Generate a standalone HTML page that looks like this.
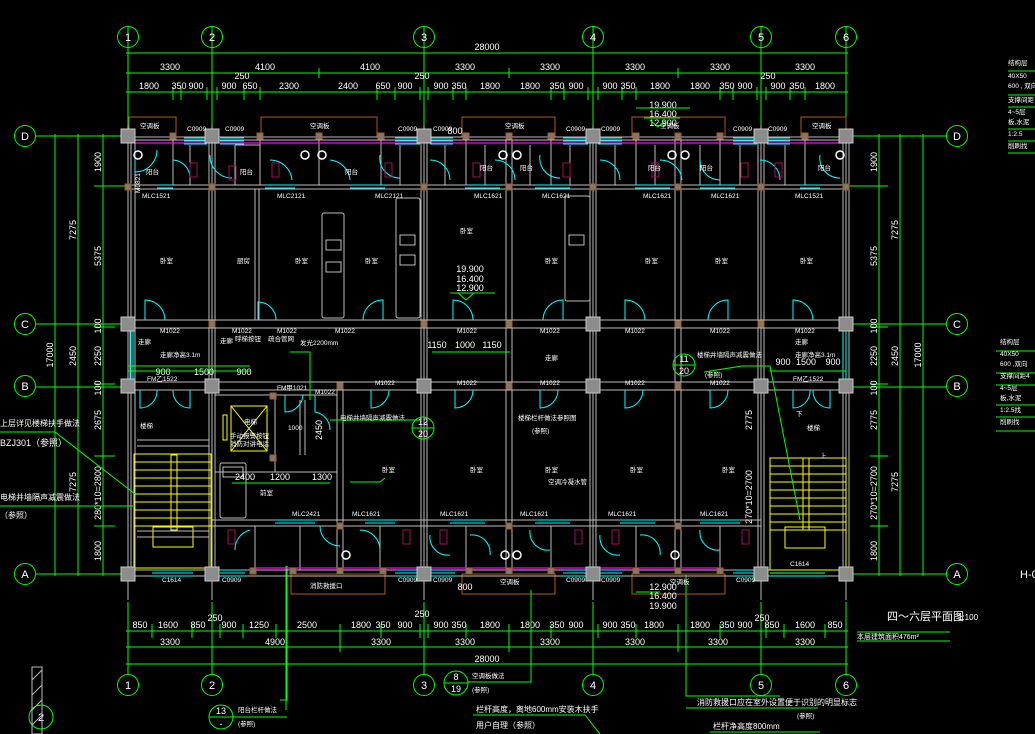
<!DOCTYPE html>
<html><head><meta charset="utf-8"><style>
html,body{margin:0;padding:0;background:#000;}
svg{display:block;}
text{font-family:"Liberation Sans","Noto Sans CJK SC",sans-serif;fill:#fff;}
.d{font-size:9px;text-anchor:middle;}
.s{font-size:6.5px;}
.g{stroke:#00ff00;fill:none;stroke-width:1;}
.w{stroke:#bdbdbd;fill:none;stroke-width:1;}
.c{stroke:#00ffff;fill:none;stroke-width:1;}
.y{stroke:#ffff00;fill:none;stroke-width:1;}
.b{stroke:#b05a14;fill:none;stroke-width:1;}
.m{stroke:#ff00ff;fill:none;stroke-width:1.2;}
.col{fill:#8c8c8c;stroke:#c8c8c8;stroke-width:1;}
.sc{fill:#7a7a7a;stroke:#b05a14;stroke-width:1;}
</style></head><body>
<svg width="1035" height="734" viewBox="0 0 1035 734" xmlns="http://www.w3.org/2000/svg">
<rect width="1035" height="734" fill="#000"/>

<g class="w" stroke-width="0.8">
<line x1="128" y1="120" x2="128" y2="600"/><line x1="212" y1="120" x2="212" y2="600"/>
<line x1="424" y1="120" x2="424" y2="600"/><line x1="593" y1="120" x2="593" y2="600"/>
<line x1="761" y1="120" x2="761" y2="600"/><line x1="846" y1="120" x2="846" y2="600"/>
</g>

<g class="g">
<line x1="128" y1="26" x2="128" y2="125"/><line x1="212" y1="26" x2="212" y2="125"/>
<line x1="424" y1="26" x2="424" y2="125"/><line x1="593" y1="26" x2="593" y2="125"/>
<line x1="761" y1="26" x2="761" y2="125"/><line x1="846" y1="26" x2="846" y2="125"/>
<line x1="126" y1="53" x2="848" y2="53"/><line x1="126" y1="73" x2="848" y2="73"/><line x1="126" y1="92" x2="848" y2="92"/>
<circle cx="128" cy="37" r="10.5"/><circle cx="212" cy="37" r="10.5"/><circle cx="424" cy="37" r="10.5"/>
<circle cx="593" cy="37" r="10.5"/><circle cx="761" cy="37" r="10.5"/><circle cx="846" cy="37" r="10.5"/>
<path d="M319 68V78M509 68V78M678 68V78M173 87V100M181 87V100M207 87V100M217 87V100M244 87V100M260 87V100M377 87V100M395 87V100M420 87V100M428 87V100M453 87V100M466 87V100M551 87V100M564 87V100M588 87V100M598 87V100M622 87V100M636 87V100M720 87V100M733 87V100M757 87V100M766 87V100M790 87V100M805 87V100"/>
</g>
<g fill="#fff" font-size="11" text-anchor="middle">
<text x="128" y="41">1</text><text x="212" y="41">2</text><text x="424" y="41">3</text>
<text x="593" y="41">4</text><text x="761" y="41">5</text><text x="846" y="41">6</text>
</g>
<text class="d" x="487" y="50">28000</text>
<g class="d">
<text x="170" y="70">3300</text><text x="265" y="70">4100</text><text x="370" y="70">4100</text><text x="465" y="70">3300</text>
<text x="550" y="70">3300</text><text x="635" y="70">3300</text><text x="720" y="70">3300</text><text x="805" y="70">3300</text>
<text x="242" y="79">250</text><text x="422" y="79">250</text><text x="768" y="79">250</text>
<text x="149" y="89">1800</text><text x="179" y="89">350</text><text x="196" y="89">900</text><text x="229" y="89">900</text>
<text x="250" y="89">650</text><text x="289" y="89">2300</text><text x="348" y="89">2400</text><text x="383" y="89">650</text>
<text x="405" y="89">900</text><text x="441" y="89">900</text><text x="459" y="89">350</text><text x="490" y="89">1800</text>
<text x="530" y="89">1800</text><text x="557" y="89">350</text><text x="576" y="89">900</text><text x="610" y="89">900</text>
<text x="628" y="89">350</text><text x="660" y="89">1800</text><text x="700" y="89">1800</text><text x="727" y="89">350</text>
<text x="745" y="89">900</text><text x="778" y="89">900</text><text x="797" y="89">350</text><text x="825" y="89">1800</text>
</g>

<g class="g">
<line x1="35" y1="136" x2="128" y2="136"/><line x1="35" y1="324" x2="128" y2="324"/>
<line x1="35" y1="387" x2="128" y2="387"/><line x1="35" y1="574" x2="128" y2="574"/>
<line x1="55" y1="134" x2="55" y2="576"/><line x1="78" y1="134" x2="78" y2="576"/><line x1="103" y1="134" x2="103" y2="576"/>
<line x1="94" y1="186" x2="128" y2="186"/><line x1="94" y1="327" x2="115" y2="327"/><line x1="94" y1="384" x2="115" y2="384"/>
<line x1="94" y1="456" x2="115" y2="456"/><line x1="94" y1="526" x2="115" y2="526"/>
<circle cx="25" cy="136" r="10.5"/><circle cx="25" cy="324" r="10.5"/><circle cx="25" cy="386" r="10.5"/><circle cx="25" cy="574" r="10.5"/>
</g>
<g fill="#fff" font-size="11" text-anchor="middle">
<text x="25" y="140">D</text><text x="25" y="328">C</text><text x="25" y="390">B</text><text x="25" y="578">A</text>
</g>
<g class="d">
<text transform="translate(101,162) rotate(-90)">1900</text><text transform="translate(101,256) rotate(-90)">5375</text>
<text transform="translate(101,326) rotate(-90)">100</text><text transform="translate(101,356) rotate(-90)">2250</text>
<text transform="translate(101,388) rotate(-90)">100</text><text transform="translate(101,420) rotate(-90)">2675</text>
<text transform="translate(101,493) rotate(-90)">280*10=2800</text><text transform="translate(101,551) rotate(-90)">1800</text>
<text transform="translate(76,230) rotate(-90)">7275</text><text transform="translate(76,356) rotate(-90)">2450</text>
<text transform="translate(76,482) rotate(-90)">7275</text><text transform="translate(53,355) rotate(-90)">17000</text>
</g>

<g class="g">
<line x1="846" y1="136" x2="946" y2="136"/><line x1="846" y1="324" x2="946" y2="324"/>
<line x1="846" y1="387" x2="946" y2="387"/><line x1="846" y1="574" x2="946" y2="574"/>
<line x1="879" y1="134" x2="879" y2="576"/><line x1="900" y1="134" x2="900" y2="576"/><line x1="923" y1="134" x2="923" y2="576"/>
<line x1="846" y1="186" x2="888" y2="186"/><line x1="870" y1="327" x2="888" y2="327"/><line x1="870" y1="384" x2="888" y2="384"/>
<line x1="870" y1="456" x2="888" y2="456"/><line x1="870" y1="526" x2="888" y2="526"/>
<circle cx="957" cy="136" r="10.5"/><circle cx="957" cy="324" r="10.5"/><circle cx="957" cy="386" r="10.5"/><circle cx="957" cy="574" r="10.5"/>
</g>
<g fill="#fff" font-size="11" text-anchor="middle">
<text x="957" y="140">D</text><text x="957" y="328">C</text><text x="957" y="390">B</text><text x="957" y="578">A</text>
</g>
<g class="d">
<text transform="translate(877,162) rotate(-90)">1900</text><text transform="translate(877,256) rotate(-90)">5375</text>
<text transform="translate(877,326) rotate(-90)">100</text><text transform="translate(877,356) rotate(-90)">2250</text>
<text transform="translate(877,388) rotate(-90)">100</text><text transform="translate(877,420) rotate(-90)">2775</text>
<text transform="translate(877,493) rotate(-90)">270*10=2700</text><text transform="translate(877,551) rotate(-90)">1800</text>
<text transform="translate(898,230) rotate(-90)">7275</text><text transform="translate(898,356) rotate(-90)">2450</text>
<text transform="translate(898,482) rotate(-90)">7275</text><text transform="translate(921,355) rotate(-90)">17000</text>
</g>

<g class="g">
<line x1="128" y1="602" x2="128" y2="674"/><line x1="212" y1="602" x2="212" y2="674"/>
<line x1="424" y1="602" x2="424" y2="674"/><line x1="593" y1="602" x2="593" y2="674"/>
<line x1="761" y1="602" x2="761" y2="674"/><line x1="846" y1="602" x2="846" y2="674"/>
<line x1="126" y1="631" x2="848" y2="631"/><line x1="126" y1="647" x2="848" y2="647"/><line x1="126" y1="664" x2="848" y2="664"/>
<circle cx="128" cy="685" r="10.5"/><circle cx="212" cy="685" r="10.5"/><circle cx="424" cy="685" r="10.5"/>
<circle cx="593" cy="685" r="10.5"/><circle cx="761" cy="685" r="10.5"/><circle cx="846" cy="685" r="10.5"/>
<path d="M152 624V638M192 624V638M220 624V638M243 624V638M276 624V638M340 624V652M381 624V638M420 624V638M428 624V638M466 624V638M509 624V652M551 624V638M598 624V638M636 624V638M678 624V652M720 624V638M766 624V638M784 624V638M825 624V638"/>
<path d="M287 566V700H280M286 566V710M686 575V696H780"/>
</g>
<g fill="#fff" font-size="11" text-anchor="middle">
<text x="128" y="689">1</text><text x="212" y="689">2</text><text x="424" y="689">3</text>
<text x="593" y="689">4</text><text x="761" y="689">5</text><text x="846" y="689">6</text>
</g>
<g class="d">
<text x="140" y="628">850</text><text x="168" y="628">1600</text><text x="198" y="628">850</text><text x="229" y="628">900</text>
<text x="259" y="628">1250</text><text x="307" y="628">2500</text><text x="361" y="628">1800</text><text x="383" y="628">350</text>
<text x="405" y="628">900</text><text x="441" y="628">900</text><text x="459" y="628">350</text><text x="490" y="628">1800</text>
<text x="530" y="628">1800</text><text x="557" y="628">350</text><text x="576" y="628">900</text><text x="610" y="628">900</text>
<text x="628" y="628">350</text><text x="654" y="628">1800</text><text x="700" y="628">1800</text><text x="727" y="628">350</text>
<text x="745" y="628">900</text><text x="772" y="628">850</text><text x="805" y="628">1600</text><text x="835" y="628">850</text>
<text x="215" y="621">250</text><text x="422" y="617">250</text><text x="762" y="621">250</text>
<text x="170" y="645">3300</text><text x="275" y="645">4900</text><text x="381" y="645">3300</text><text x="465" y="645">3300</text>
<text x="550" y="645">3300</text><text x="635" y="645">3300</text><text x="718" y="645">3300</text><text x="805" y="645">3300</text>
<text x="487" y="662">28000</text>
</g>

<g class="b">
<rect x="129" y="117" width="47" height="20"/><rect x="261" y="117" width="116" height="20"/>
<rect x="462" y="117" width="93" height="20"/><rect x="632" y="117" width="93" height="20"/><rect x="801" y="117" width="45" height="20"/>
<rect x="291" y="574" width="94" height="20"/><rect x="462" y="574" width="93" height="20"/><rect x="632" y="574" width="93" height="20"/>
</g>
<g class="s"><text x="140" y="128">空调板</text><text x="310" y="128">空调板</text><text x="505" y="128">空调板</text><text x="660" y="128">空调板</text><text x="812" y="128">空调板</text>
<text x="310" y="588">消防救援口</text><text x="500" y="584">空调板</text><text x="670" y="584">空调板</text></g>

<g class="w">
<path d="M128 137H846M128 140H846"/>
<path d="M128 185H846M128 189H846"/>
<path d="M128 320H846M128 328H846M128 382H846M128 390H846"/>
<path d="M212 520H761M212 526H761"/>
<path d="M128 570H846M128 576H846"/>
<path d="M131 140V570M135 140V570M209 140V570M215 140V570M421 140V570M427 140V570M590 140V570M596 140V570M758 140V570M764 140V570M843 140V570M849 140V570"/>
<path d="M506 140V574M512 140V574M675 140V574M681 140V574M337 390V574M343 390V574"/>
<path d="M255 189V320M259 189V320M173 140V185M260 140V185M319 140V185M381 140V185M466 140V185M551 140V185M636 140V185M720 140V185M805 140V185"/>
<path d="M235 145V185M235 145H260M190 145V185M400 145V185M445 145V185M485 145V185M530 145V185M570 145V185M615 145V185M655 145V185M700 145V185M740 145V185M785 145V185"/>
<path d="M255 526V570M300 526V570M380 526V570M466 526V570M551 526V570M636 526V570M720 526V570"/>
<path d="M215 395H337M215 472H337M275 395V472M300 400V455M305 400V455"/>
<rect x="322" y="213" width="22" height="105" rx="2"/><rect x="396" y="198" width="24" height="120" rx="2"/>
<rect x="565" y="196" width="25" height="105" rx="2"/><rect x="326" y="240" width="15" height="10"/><rect x="326" y="262" width="15" height="10"/>
<rect x="400" y="235" width="15" height="10"/><rect x="400" y="255" width="15" height="10"/><rect x="569" y="235" width="15" height="10"/>
<rect x="220" y="463" width="26" height="55" rx="2"/><rect x="223" y="467" width="20" height="10"/>
</g>
<line class="m" x1="135" y1="143" x2="843" y2="143"/>
<line class="m" x1="250" y1="568" x2="720" y2="568"/>

<g class="c">
<path d="M184 138H207M184 141H207M184 144H207M220 138H244M220 141H244M220 144H244M395 138H420M395 141H420M395 144H420M430 138H453M430 141H453M430 144H453"/>
<path d="M563 138H588M563 141H588M563 144H588M598 138H622M598 141H622M598 144H622M733 138H757M733 141H757M733 144H757M767 138H790M767 141H790M767 144H790"/>
<path d="M157 185H173M157 188H173M265 185H295M265 188H295M350 185H385M350 188H385M465 185H500M465 188H500M535 185H570M535 188H570M635 185H670M635 188H670M700 185H735M700 188H735M800 185H820M800 188H820"/>
<path d="M152 570H193M152 573H193M152 576H193M220 570H245M220 573H245M220 576H245M395 570H420M395 573H420M395 576H420M430 570H455M430 573H455M430 576H455"/>
<path d="M563 570H588M563 573H588M563 576H588M598 570H622M598 573H622M598 576H622M733 570H757M733 573H757M733 576H757M770 570H825M770 573H825M770 576H825"/>
<path d="M275 520H315M275 523H315M365 520H395M365 523H395M450 520H485M450 523H485M535 520H570M535 523H570M620 520H655M620 523H655M700 520H740M700 523H740"/>
<path d="M130 330V380M133 330V380M843 330V380M846 330V380"/>
<path d="M135 150V172A22 22 0 0 0 157 150M173 160A18 18 0 0 1 190 178M210 155A22 22 0 0 0 232 178M270 160A22 22 0 0 1 292 180M330 160A22 22 0 0 1 350 180M380 155A20 20 0 0 0 400 178M430 160A20 20 0 0 1 450 180M495 160A20 20 0 0 1 515 180M540 155A20 20 0 0 0 560 178M600 160A20 20 0 0 1 620 180M660 160A22 22 0 0 1 682 180M700 160A20 20 0 0 0 720 180M760 160A20 20 0 0 1 780 180M820 155A20 20 0 0 0 840 178"/>
<path d="M145 320V300A20 20 0 0 1 165 320M258 320V302A18 18 0 0 1 276 320M363 320A20 20 0 0 1 383 300V320M453 320V300A20 20 0 0 1 473 320M543 320A20 20 0 0 1 563 300V320M625 320V300A20 20 0 0 1 645 320M708 320A20 20 0 0 1 728 300V320M793 320V300A20 20 0 0 1 813 320"/>
<path d="M140 390V408A17 17 0 0 0 157 390M190 390V408A17 17 0 0 1 173 390M371 390V408A18 18 0 0 0 389 390M455 390V408A18 18 0 0 0 473 390M540 390V408A18 18 0 0 0 558 390M625 390V408A18 18 0 0 0 643 390M710 390V408A18 18 0 0 0 728 390M793 390V408A17 17 0 0 0 810 390M830 390V408A17 17 0 0 1 813 390M285 395V412A18 18 0 0 0 303 395M315 395V412A18 18 0 0 1 330 430"/>
<path d="M250 530A20 20 0 0 0 235 550M320 526A20 20 0 0 0 340 546M360 530A20 20 0 0 1 380 550M430 535A18 18 0 0 0 450 555M470 535A18 18 0 0 1 490 555M530 530A18 18 0 0 0 550 550M600 535A18 18 0 0 0 620 555M640 535A18 18 0 0 1 660 555M700 530A18 18 0 0 0 720 550"/>
</g>

<g class="y">
<rect x="134" y="454" width="77" height="114"/>
<path d="M134 462H211M134 470H211M134 478H211M134 486H211M134 494H211M134 502H211M134 510H211M134 518H211M134 526H211"/>
<rect x="171" y="455" width="6" height="75"/><rect x="153" y="527" width="40" height="20"/>
<rect x="231" y="406" width="36" height="45"/><path d="M231 406L267 451M267 406L231 451"/><rect x="223" y="415" width="4" height="25"/>
<rect x="770" y="458" width="76" height="112"/>
<path d="M770 466H846M770 474H846M770 482H846M770 490H846M770 498H846M770 506H846M770 514H846M770 522H846M770 530H846"/>
<rect x="803" y="458" width="6" height="72"/><rect x="785" y="527" width="40" height="21"/>
</g>
<g class="w" stroke="#888"><path d="M137 440H209M137 446H209M137 531H209M137 537H209"/></g>

<g stroke="#a0105a" fill="none">
<rect x="190" y="163" width="7" height="14"/><rect x="229" y="166" width="7" height="14"/><rect x="272" y="163" width="7" height="14"/>
<rect x="385" y="163" width="7" height="14"/><rect x="473" y="163" width="7" height="14"/><rect x="563" y="163" width="7" height="14"/>
<rect x="652" y="163" width="7" height="14"/><rect x="741" y="163" width="7" height="14"/><rect x="775" y="163" width="7" height="14"/>
<rect x="228" y="530" width="7" height="14"/><rect x="403" y="530" width="7" height="14"/><rect x="440" y="530" width="7" height="14"/>
<rect x="575" y="530" width="7" height="14"/><rect x="612" y="530" width="7" height="14"/><rect x="742" y="530" width="7" height="14"/>
</g>
<g fill="none" stroke="#fff" stroke-width="1.5"><circle cx="138" cy="155" r="4"/><circle cx="305" cy="155" r="4"/><circle cx="322" cy="155" r="4"/><circle cx="503" cy="155" r="4"/><circle cx="517" cy="155" r="4"/>
<circle cx="672" cy="155" r="4"/><circle cx="685" cy="155" r="4"/><circle cx="840" cy="155" r="4"/><circle cx="346" cy="555" r="4"/><circle cx="505" cy="555" r="4"/><circle cx="517" cy="555" r="4"/><circle cx="675" cy="555" r="4"/></g>

<g class="col">
<rect x="121" y="129" width="14" height="14"/><rect x="205" y="129" width="14" height="14"/><rect x="417" y="129" width="14" height="14"/>
<rect x="586" y="129" width="14" height="14"/><rect x="754" y="129" width="14" height="14"/><rect x="839" y="129" width="14" height="14"/>
<rect x="121" y="317" width="14" height="14"/><rect x="839" y="317" width="14" height="14"/><rect x="586" y="317" width="14" height="14"/>
<rect x="121" y="379" width="14" height="14"/><rect x="205" y="379" width="14" height="14"/><rect x="417" y="379" width="14" height="14"/>
<rect x="586" y="379" width="14" height="14"/><rect x="754" y="379" width="14" height="14"/><rect x="839" y="379" width="14" height="14"/>
<rect x="121" y="567" width="14" height="14"/><rect x="205" y="567" width="14" height="14"/><rect x="417" y="567" width="14" height="14"/>
<rect x="586" y="567" width="14" height="14"/><rect x="754" y="567" width="14" height="14"/><rect x="839" y="567" width="14" height="14"/>
</g>
<g class="sc">
<rect x="170" y="133" width="6" height="6"/><rect x="257" y="133" width="6" height="6"/><rect x="316" y="133" width="6" height="6"/><rect x="378" y="133" width="6" height="6"/>
<rect x="463" y="133" width="6" height="6"/><rect x="506" y="133" width="6" height="6"/><rect x="548" y="133" width="6" height="6"/><rect x="633" y="133" width="6" height="6"/>
<rect x="675" y="133" width="6" height="6"/><rect x="717" y="133" width="6" height="6"/><rect x="802" y="133" width="6" height="6"/>
<rect x="125" y="184" width="6" height="6"/><rect x="209" y="184" width="6" height="6"/><rect x="421" y="184" width="6" height="6"/><rect x="506" y="184" width="6" height="6"/>
<rect x="590" y="184" width="6" height="6"/><rect x="675" y="184" width="6" height="6"/><rect x="758" y="184" width="6" height="6"/><rect x="843" y="184" width="6" height="6"/>
<rect x="209" y="321" width="6" height="6"/><rect x="421" y="321" width="6" height="6"/><rect x="506" y="321" width="6" height="6"/><rect x="675" y="321" width="6" height="6"/><rect x="758" y="321" width="6" height="6"/>
<rect x="506" y="383" width="6" height="6"/><rect x="675" y="383" width="6" height="6"/><rect x="337" y="383" width="6" height="6"/>
<rect x="270" y="393" width="6" height="6"/><rect x="270" y="455" width="6" height="6"/>
<rect x="337" y="523" width="6" height="6"/><rect x="506" y="523" width="6" height="6"/><rect x="675" y="523" width="6" height="6"/>
<rect x="250" y="568" width="6" height="6"/><rect x="290" y="568" width="6" height="6"/><rect x="337" y="568" width="6" height="6"/><rect x="380" y="568" width="6" height="6"/>
<rect x="466" y="568" width="6" height="6"/><rect x="506" y="568" width="6" height="6"/><rect x="548" y="568" width="6" height="6"/><rect x="633" y="568" width="6" height="6"/>
<rect x="675" y="568" width="6" height="6"/><rect x="717" y="568" width="6" height="6"/>
</g>

<g class="s">
<text x="187" y="131">C0909</text><text x="225" y="131">C0909</text><text x="398" y="131">C0909</text><text x="433" y="131">C0909</text>
<text x="566" y="131">C0909</text><text x="601" y="131">C0909</text><text x="733" y="131">C0909</text><text x="768" y="131">C0909</text>
<text x="142" y="198">MLC1521</text><text x="277" y="198">MLC2121</text><text x="375" y="198">MLC2121</text><text x="474" y="198">MLC1621</text>
<text x="542" y="198">MLC1621</text><text x="643" y="198">MLC1621</text><text x="711" y="198">MLC1621</text><text x="795" y="198">MLC1521</text>
<text x="146" y="174">阳台</text><text x="240" y="174">阳台</text><text x="345" y="174">阳台</text><text x="480" y="170">阳台</text><text x="520" y="170">阳台</text>
<text x="648" y="170">阳台</text><text x="700" y="170">阳台</text><text x="818" y="170">阳台</text>
<text x="160" y="263">卧室</text><text x="237" y="263">厨房</text><text x="295" y="263">卧室</text><text x="365" y="263">卧室</text>
<text x="460" y="233">卧室</text><text x="545" y="263">卧室</text><text x="645" y="263">卧室</text><text x="715" y="263">卧室</text><text x="800" y="263">卧室</text>
<text x="160" y="333">M1022</text><text x="232" y="333">M1022</text><text x="277" y="333">M1022</text><text x="335" y="333">M1022</text>
<text x="457" y="333">M1022</text><text x="540" y="333">M1022</text><text x="625" y="333">M1022</text><text x="710" y="333">M1022</text><text x="795" y="333">M1022</text>
<text x="457" y="385">M1022</text><text x="540" y="385">M1022</text><text x="625" y="385">M1022</text><text x="710" y="385">M1022</text><text x="375" y="385">M1022</text>
<text x="147" y="381">FM乙1522</text><text x="793" y="381">FM乙1522</text><text x="277" y="390">FM甲1021</text><text x="315" y="394">M1022</text>
<text x="545" y="360">走廊</text><text x="220" y="343">走廊</text><text x="138" y="344">走廊</text><text x="795" y="344">走廊</text>
<text x="160" y="357">走廊净高3.1m</text><text x="795" y="357">走廊净高3.1m</text>
<text x="140" y="428">楼梯</text><text x="260" y="495">前室</text><text x="382" y="472">卧室</text><text x="470" y="472">卧室</text><text x="545" y="472">卧室</text>
<text x="630" y="472">卧室</text><text x="722" y="472">卧室</text><text x="807" y="430">楼梯</text>
<text x="292" y="516">MLC2421</text><text x="352" y="516">MLC1621</text><text x="440" y="516">MLC1621</text><text x="520" y="516">MLC1621</text>
<text x="608" y="516">MLC1621</text><text x="700" y="516">MLC1621</text>
<text x="162" y="582">C1614</text><text x="222" y="582">C0909</text><text x="398" y="582">C0909</text><text x="433" y="582">C0909</text>
<text x="566" y="582">C0909</text><text x="601" y="582">C0909</text><text x="736" y="582">C0909</text><text x="790" y="566">C1614</text>
<text x="244" y="424">电梯</text><text x="230" y="438">手动报警按钮</text><text x="230" y="446">消防对讲电话</text><text x="288" y="430">1000</text>
<text x="235" y="341">呼梯按钮</text><text x="268" y="341">疏合管网</text><text x="300" y="345">发光2200mm</text>
<text x="340" y="420">电梯井墙隔声减震做法</text><text x="518" y="420">楼梯栏杆做法参照图</text><text x="532" y="433">(参照)</text>
<text x="548" y="484">空调冷凝水管</text><text x="697" y="357">楼梯井墙隔声减震做法</text><text x="705" y="377">(参照)</text>
<text x="796" y="416">下</text><text x="820" y="458">上</text>
<text x="132" y="165" transform="rotate(-90 150 175)">M0821</text>
</g>
<g class="d">
<text x="163" y="375">900</text><text x="204" y="375">1500</text><text x="244" y="375">900</text>
<text x="783" y="365">900</text><text x="806" y="365">1500</text><text x="833" y="365">900</text>
<text x="437" y="348">1150</text><text x="465" y="348">1000</text><text x="492" y="348">1150</text>
<text x="245" y="480">2400</text><text x="280" y="480">1200</text><text x="322" y="480">1300</text>
<text transform="translate(322,430) rotate(-90)">2450</text><text transform="translate(752,420) rotate(-90)">2775</text><text transform="translate(752,497) rotate(-90)">270*10=2700</text>
<text x="470" y="272">19.900</text><text x="470" y="282">16.400</text><text x="470" y="291">12.900</text>
<text x="663" y="108">19.900</text><text x="663" y="117">16.400</text><text x="663" y="126">12.900</text>
<text x="663" y="590">12.900</text><text x="663" y="599">16.400</text><text x="663" y="609">19.900</text>
<text x="455" y="134">800</text><text x="465" y="590">800</text>
</g>
<g class="g">
<path d="M128 366H250M128 371H250M770 371H846M432 352H510M232 483H330"/>
<path d="M450 293H495M458 293L466 300L474 293M636 108H690M644 118H680M650 120L658 127L666 120M636 592H660"/>
<path d="M290 352H310V400M330 420H410M410 420L420 420M350 482H380L385 478"/>
<path d="M704 372L742 366H770L800 520"/>
<circle cx="423" cy="428" r="11"/><line x1="412" y1="428" x2="434" y2="428"/>
<circle cx="684" cy="365" r="11"/><line x1="673" y1="365" x2="695" y2="365"/>
<path d="M0 432H55L135 494M0 506H133"/>
<circle cx="221" cy="717" r="12"/><line x1="209" y1="717" x2="233" y2="717"/><path d="M233 717H287"/>
<circle cx="456" cy="683" r="12"/><line x1="444" y1="683" x2="468" y2="683"/><path d="M468 682H531V590"/>
<path d="M473 715H585L600 734"/><path d="M686 708H818M710 732H820"/>
<path d="M857 632H950M857 641H950"/>
<circle cx="41" cy="717" r="12"/>
</g>
<g fill="#fff" font-size="9" text-anchor="middle">
<text x="423" y="425">12</text><text x="423" y="437">20</text><text x="684" y="362">11</text><text x="684" y="374">20</text>
<text x="221" y="714">13</text><text x="221" y="727">-</text><text x="456" y="680">8</text><text x="456" y="692">19</text><text x="41" y="721" font-size="11">2</text>
</g>
<g class="s">
<text x="0" y="426" font-size="8">上层详见楼梯扶手做法</text><text x="0" y="446" font-size="9">BZJ301（参照）</text>
<text x="0" y="500" font-size="8">电梯井墙隔声减震做法</text><text x="0" y="518" font-size="8">（参照）</text>
<text x="238" y="712">阳台栏杆做法</text><text x="238" y="726">(参照)</text><text x="472" y="678">空调板做法</text><text x="472" y="692">(参照)</text>
<text x="476" y="712" font-size="8">栏杆高度，离地600mm安装木扶手</text><text x="476" y="728" font-size="8">用户自理（参照）</text>
<text x="697" y="705" font-size="8">消防救援口应在室外设置便于识别的明显标志</text><text x="797" y="718">(参照)</text>
<text x="713" y="729" font-size="8">栏杆净高度800mm</text>
<text x="857" y="639" font-size="7">本层建筑面积476m²</text>
<text x="1008" y="65">结构层</text><text x="1008" y="78">40X50</text><text x="1008" y="88">600 , 双向</text><text x="1008" y="102">支撑间距</text>
<text x="1008" y="114">4~5层</text><text x="1008" y="124">板,水泥</text><text x="1008" y="136">1:2.5</text><text x="1008" y="148">削刷找</text>
<text x="1000" y="344">结构层</text><text x="1000" y="356">40X50</text><text x="1000" y="366">600 ,双向</text><text x="1000" y="378">支撑间距4</text>
<text x="1000" y="390">4~5层</text><text x="1000" y="400">板,水泥</text><text x="1000" y="412">1:2.5找</text><text x="1000" y="424">削刷找</text>
</g>
<g class="g"><path d="M1008 71H1035M1008 95H1035M1008 107H1035M1008 129H1035M1008 141H1035M1008 153H1035M996 351H1035M996 373H1035M996 385H1035M996 405H1035M996 417H1035M996 431H1035"/></g>
<text x="887" y="620" font-size="11">四～六层平面图</text><text x="958" y="620" font-size="8">1:100</text>
<text x="1020" y="578" font-size="11">H-0</text>
<rect x="32" y="667" width="10" height="67" fill="none" stroke="#bbb"/>
<path d="M32 680L42 670M32 695L42 685M32 710L42 700M32 725L42 715" stroke="#bbb"/>
</svg>
</body></html>
